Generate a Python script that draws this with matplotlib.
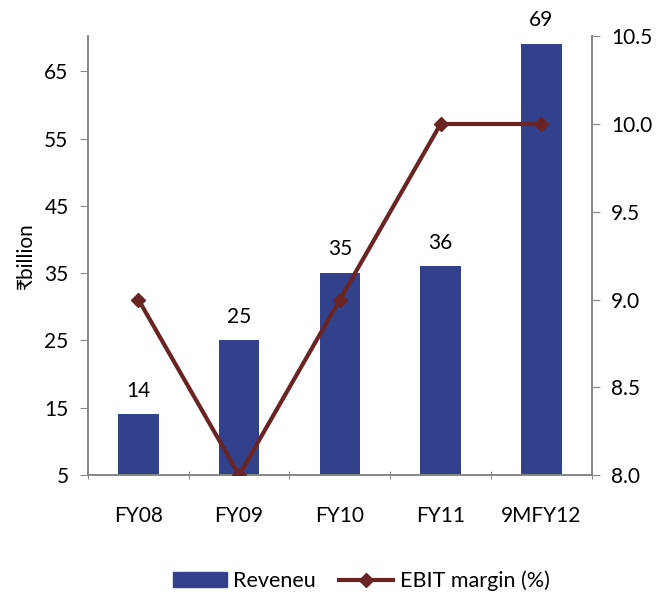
import matplotlib
matplotlib.use("Agg")
import matplotlib.pyplot as plt
from matplotlib.lines import Line2D
from matplotlib.patches import Patch

plt.rcParams['font.family'] = ['Lato', 'DejaVu Sans']

categories = ["FY08", "FY09", "FY10", "FY11", "9MFY12"]
revenue = [14, 25, 35, 36, 69]
ebit_margin = [9.0, 8.0, 9.0, 10.0, 10.0]
left_ticks = [5, 15, 25, 35, 45, 55, 65]
right_ticks = [8.0, 8.5, 9.0, 9.5, 10.0, 10.5]

bar_color = "#32418B"
line_color = "#6B2424"
spine_color = "#868686"
fs = 15

fig = plt.figure(figsize=(6.59, 5.94), dpi=100)
ax = fig.add_axes([0.1335, 0.2003, 0.7645, 0.7387])
x = list(range(len(categories)))

ax.bar(x, [v - 5 for v in revenue], bottom=5, width=0.4, color=bar_color, zorder=2)
for xi, v in zip(x, revenue):
    ax.annotate(str(v), (xi, v), xytext=(0, 10), textcoords="offset points",
                ha="center", va="bottom", fontsize=fs)

ax.set_ylim(5, 70.2)
ax.set_xlim(-0.5, 4.5)
ax.set_yticks(left_ticks)
ax.set_xticks([i - 0.5 for i in range(len(categories) + 1)], minor=False)
ax.set_xticklabels([])
ax.set_xticks(x, minor=True)
ax.set_xticklabels(categories, minor=True, fontsize=fs)
ax.tick_params(axis="x", which="major", length=6, direction="inout", color=spine_color)
ax.tick_params(axis="x", which="minor", length=0, pad=22)
ax.tick_params(axis="y", length=6, direction="out", color=spine_color, labelsize=fs, pad=8)
ax.set_ylabel("₹billion", fontsize=fs, labelpad=6)

ax2 = ax.twinx()
ax2.plot(x, ebit_margin, color=line_color, lw=3, marker="D", markersize=7, zorder=3)
ax2.set_ylim(8.0, 10.5)
ax2.set_yticks(right_ticks)
ax2.set_yticklabels([f"{t:.1f}" for t in right_ticks])
ax2.tick_params(axis="y", length=6, direction="out", color=spine_color, labelsize=fs, pad=8)

for a in (ax, ax2):
    a.spines["top"].set_visible(False)
    for s in ("left", "right", "bottom"):
        a.spines[s].set_color(spine_color)
        a.spines[s].set_linewidth(1.2)

handles = [Patch(facecolor=bar_color, edgecolor=bar_color),
           Line2D([0], [0], color=line_color, lw=3, marker="D", markersize=7)]
fig.legend(handles, ["Reveneu", "EBIT margin (%)"], loc="center", ncol=2,
           bbox_to_anchor=(0.548, 0.022), frameon=False, fontsize=15.5,
           handlelength=2.5, handletextpad=0.3, columnspacing=1.1)

fig.savefig("out.png", dpi=100)
